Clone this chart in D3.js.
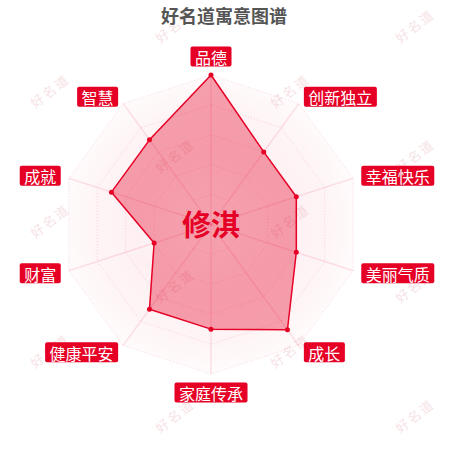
<!DOCTYPE html>
<html>
<head>
<meta charset="utf-8">
<script src="https://cdn.jsdelivr.net/npm/d3@7"></script>
<style>
  html, body { margin: 0; padding: 0; background: #fff; }
  svg { display: block; font-family: "Noto Sans CJK SC", "Noto Sans", sans-serif; }
</style>
</head>
<body>
<svg id="chart" width="450" height="450"></svg>
<script>
const title = "好名道寓意图谱";
const nameText = "修淇";
const indicators = ["品德", "创新独立", "幸福快乐", "美丽气质", "成长", "家庭传承", "健康平安", "财富", "成就", "智慧"];
const scores = [100, 60, 60, 60, 87, 70, 70, 40, 70, 70];
const maxScore = 100;
const splitNumber = 5;

const red = "#e60026";
const cx = 211, cy = 224.5, R = 149.5;

const svg = d3.select("#chart");
const defs = svg.append("defs");

const bgGrad = defs.append("radialGradient").attr("id", "bg-grad")
    .attr("gradientUnits", "userSpaceOnUse")
    .attr("cx", cx).attr("cy", cy).attr("r", R);
bgGrad.append("stop").attr("offset", "0").attr("stop-color", red).attr("stop-opacity", 0.01);
bgGrad.append("stop").attr("offset", "0.5").attr("stop-color", red).attr("stop-opacity", 0.06);
bgGrad.append("stop").attr("offset", "0.8").attr("stop-color", red).attr("stop-opacity", 0.04);
bgGrad.append("stop").attr("offset", "1").attr("stop-color", red).attr("stop-opacity", 0.015);

const areaGrad = defs.append("radialGradient").attr("id", "area-grad")
    .attr("gradientUnits", "userSpaceOnUse")
    .attr("cx", cx).attr("cy", cy).attr("r", R);
areaGrad.append("stop").attr("offset", "0").attr("stop-color", red).attr("stop-opacity", 0.05);
areaGrad.append("stop").attr("offset", "0.5").attr("stop-color", red).attr("stop-opacity", 0.17);
areaGrad.append("stop").attr("offset", "1").attr("stop-color", red).attr("stop-opacity", 0.36);

const rScale = d3.scaleLinear().domain([0, maxScore]).range([0, R]);
const angle = d3.scaleLinear().domain([0, indicators.length]).range([0, 2 * Math.PI]);

const pt = (i, r) => [cx + r * Math.sin(angle(i)), cy - r * Math.cos(angle(i))];

// watermark, a staggered lattice over the page
const wm = svg.append("g").attr("class", "watermark");
for (let row = 0; row < 7; row++) {
    for (let col = -1; col < 3; col++) {
        const x = 50 + col * 240 + (row % 2 === 0 ? 125 : 0);
        const y = 26 + row * 65;
        if (x < 25 || x > 430) continue;
        wm.append("text")
            .attr("transform", `translate(${x},${y}) rotate(-38)`)
            .attr("text-anchor", "middle")
            .attr("dy", 5)
            .attr("font-size", 13)
            .attr("letter-spacing", 2)
            .attr("fill", "#e9b4bd")
            .attr("fill-opacity", 0.4)
            .text("好名道");
    }
}

// title
svg.append("text")
    .attr("x", 224).attr("y", 23)
    .attr("text-anchor", "middle")
    .attr("font-size", 18)
    .attr("font-weight", "bold")
    .attr("fill", "#555")
    .text(title);

const g = svg.append("g");

const ring = v => indicators.map((d, i) => pt(i, rScale(v)));

g.append("polygon")
    .attr("points", ring(maxScore).join(" "))
    .attr("fill", "url(#bg-grad)");

d3.range(1, splitNumber + 1).forEach(k => {
    g.append("polygon")
        .attr("points", ring(maxScore * k / splitNumber).join(" "))
        .attr("fill", "none")
        .attr("stroke", red)
        .attr("stroke-opacity", 0.16)
        .attr("stroke-dasharray", "1,2");
});

g.selectAll(".axis-line")
    .data(indicators)
    .enter()
    .append("line")
    .attr("class", "axis-line")
    .attr("x1", cx).attr("y1", cy)
    .attr("x2", (d, i) => pt(i, R)[0])
    .attr("y2", (d, i) => pt(i, R)[1])
    .attr("stroke", red)
    .attr("stroke-opacity", 0.1)
    .attr("stroke-width", 1.5);

const line = d3.lineRadial()
    .angle((d, i) => angle(i))
    .radius(d => rScale(d))
    .curve(d3.curveLinearClosed);

g.append("path")
    .attr("transform", `translate(${cx},${cy})`)
    .attr("d", line(scores))
    .attr("fill", "url(#area-grad)")
    .attr("stroke", red)
    .attr("stroke-width", 1.5)
    .attr("stroke-linejoin", "round");

g.selectAll(".dot")
    .data(scores)
    .enter()
    .append("circle")
    .attr("class", "dot")
    .attr("cx", (d, i) => pt(i, rScale(d))[0])
    .attr("cy", (d, i) => pt(i, rScale(d))[1])
    .attr("r", 2.5)
    .attr("fill", red);

// indicator labels
const labels = g.selectAll(".label")
    .data(indicators)
    .enter()
    .append("g")
    .attr("class", "label");

labels.each(function (d, i) {
    const el = d3.select(this);
    const [ax, ay] = pt(i, R + 8.5);
    const s = Math.sin(angle(i)), c = Math.cos(angle(i));
    const t = el.append("text")
        .attr("font-size", 16)
        .attr("fill", "#fff")
        .attr("dominant-baseline", "central")
        .text(d);
    const w = t.node().getComputedTextLength() + 9;
    const h = 20;
    let left, top;
    if (s > 0.01) left = ax;
    else if (s < -0.01) left = ax - w;
    else left = ax - w / 2;
    if (Math.abs(s) < 0.01) top = c > 0 ? ay - h : ay;
    else top = ay - h / 2;
    el.insert("rect", "text")
        .attr("x", left).attr("y", top)
        .attr("width", w).attr("height", h)
        .attr("rx", 2)
        .attr("fill", red);
    t.attr("x", left + 4.5).attr("y", top + h / 2 + 0.5);
});

// name in the middle
svg.append("text")
    .attr("x", cx).attr("y", cy - 2)
    .attr("text-anchor", "middle")
    .attr("dominant-baseline", "central")
    .attr("font-size", 29)
    .attr("font-weight", "bold")
    .attr("fill", red)
    .text(nameText);
</script>
</body>
</html>
